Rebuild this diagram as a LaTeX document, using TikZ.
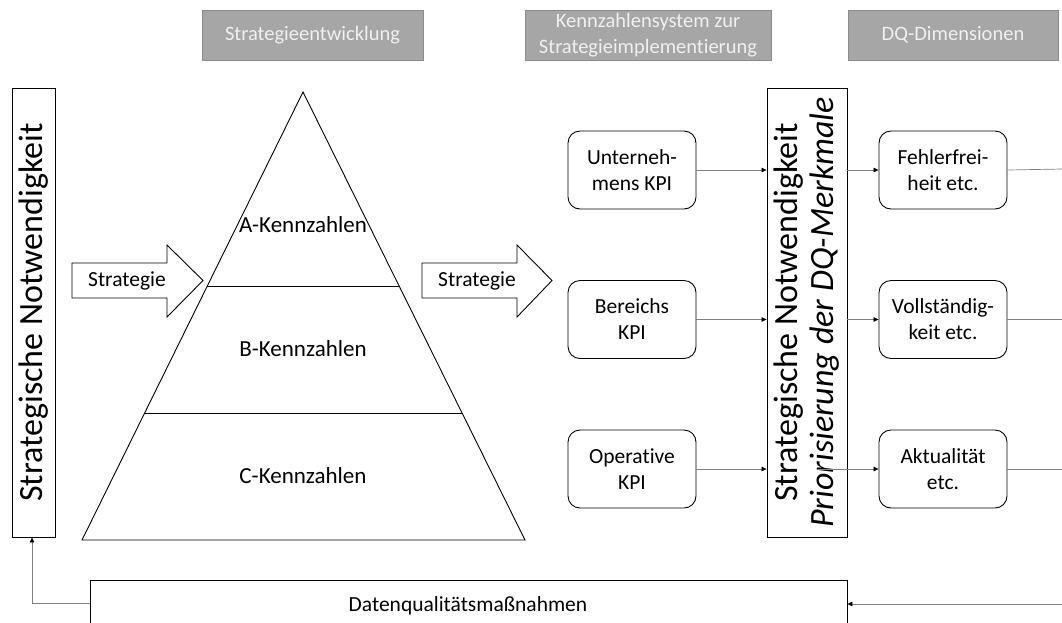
\documentclass[tikz,border=0pt]{standalone}
\usepackage{fontspec}
\setmainfont[Ligatures=NoCommon]{Carlito}
\usetikzlibrary{arrows.meta,calc}
\definecolor{headfill}{HTML}{A6A6A6}
\definecolor{headline}{HTML}{8C8C8C}
\definecolor{headtext}{HTML}{F0F0F0}
\definecolor{linkgray}{HTML}{808080}
\tikzset{
  px/.style={x=1pt,y=-1pt},
  header/.style={draw=headline, line width=0.8pt, fill=headfill, text=headtext,
    align=center, inner sep=0pt, font=\fontsize{20.5}{26}\selectfont},
  plainbox/.style={draw, line width=0.9pt, inner sep=0pt},
  kpibox/.style={draw, line width=0.9pt, rounded corners=12pt, inner sep=0pt,
    minimum width=128pt, minimum height=78pt, align=center,
    font=\fontsize{21.5}{26}\selectfont},
  tiertext/.style={font=\fontsize{23}{27}\selectfont, inner sep=0pt},
  labeltext/.style={font=\fontsize{21.5}{26}\selectfont},
  blockarrow/.style={draw, line width=0.9pt, fill=white},
  link/.style={draw=linkgray, line width=0.7pt,
    -{Triangle[length=5pt,width=4.5pt,color=black]}},
  plainlink/.style={draw=linkgray, line width=0.7pt},
}
\begin{document}
\begin{tikzpicture}[px]
\useasboundingbox (0,0) rectangle (1062,622);
\clip (0,0) rectangle (1062,622);

% column headers
\node[header, minimum width=221pt, minimum height=50pt] (h1) at (312.5,35) {Strategieentwicklung};
\node[header, minimum width=246pt, minimum height=50pt] (h2) at (648,35) {Kennzahlensystem zur\\Strategieimplementierung};
\node[header, minimum width=210pt, minimum height=50pt] (h3) at (953,35) {DQ-Dimensionen};

% left column: strategic necessity
\node[plainbox, minimum width=43pt, minimum height=449pt] (left) at (33.5,312.5) {};
\node[rotate=90, font=\fontsize{34}{38}\selectfont] (lefttext) at (left.center) {Strategische Notwendigkeit};

% pyramid with three tiers
\coordinate (apex) at (303,92);
\coordinate (bl) at (82,540);
\coordinate (br) at (525,540);
\draw[line width=0.9pt, line join=miter] (apex) -- (br) -- (bl) -- cycle;
\draw[line width=0.9pt] ($(apex)!0.433!(bl)$) -- ($(apex)!0.433!(br)$);
\draw[line width=0.9pt] ($(apex)!0.717!(bl)$) -- ($(apex)!0.717!(br)$);
\node[tiertext] (ta) at (303,225) {A-Kennzahlen};
\node[tiertext] (tb) at (303,349) {B-Kennzahlen};
\node[tiertext] (tc) at (303,476) {C-Kennzahlen};

% block arrows labelled "Strategie"
\draw[blockarrow] (72,263) -- (167,263) -- (167,245) -- (203,280.5) -- (167,317) -- (167,298) -- (72,298) -- cycle;
\node[labeltext] (s1) at (127,280.5) {Strategie};
\draw[blockarrow] (422,263) -- (517,263) -- (517,245) -- (552,280.5) -- (517,317) -- (517,298) -- (422,298) -- cycle;
\node[labeltext] (s2) at (477,280.5) {Strategie};

% KPI boxes
\node[kpibox] (k1) at (632,170) {Unterneh-\\mens KPI};
\node[kpibox] (k2) at (632,319.5) {Bereichs\\KPI};
\node[kpibox] (k3) at (632,469) {Operative\\KPI};

% prioritisation column
\node[plainbox, minimum width=80pt, minimum height=449pt] (mid) at (807,312.5) {};
\node[rotate=90, align=center, font=\fontsize{34}{36}\selectfont] (midtext) at (mid.center)
  {Strategische Notwendigkeit\\\itshape Priorisierung der DQ-Merkmale};

% DQ dimension boxes
\node[kpibox] (d1) at (943,170) {Fehlerfrei-\\heit etc.};
\node[kpibox] (d2) at (943,319.5) {Vollständig-\\keit etc.};
\node[kpibox] (d3) at (943,469) {Aktualität\\etc.};

% bottom box: data quality measures
\node[plainbox, minimum width=757pt, minimum height=60pt] (dqm) at (468.5,610) {};
\node[labeltext] (dqmtext) at (468,606) {Datenqualitätsmaßnahmen};

% connectors
\draw[link] (k1.east) -- (k1.east -| mid.west);
\draw[link] (k2.east) -- (k2.east -| mid.west);
\draw[link] (k3.east) -- (k3.east -| mid.west);
\draw[link] (d1.west -| mid.east) -- (d1.west);
\draw[link] (d2.west -| mid.east) -- (d2.west);
\coordinate (a3) at (817,469);
\draw[link] (a3) -- (d3.west);
\coordinate (r1) at (1062,169);
\coordinate (r2) at (1062,319.5);
\coordinate (r3) at (1062,469);
\draw[plainlink] (d1.east) -- (r1);
\draw[plainlink] (d2.east) -- (r2);
\draw[plainlink] (d3.east) -- (r3);
\coordinate (rin) at (1062,604);
\draw[link] (rin) -- (rin -| dqm.east);
\coordinate (fb) at (90,603);
\draw[link] (fb) -- (32,603) -- (left.south -| 32,0);
\end{tikzpicture}
\end{document}
